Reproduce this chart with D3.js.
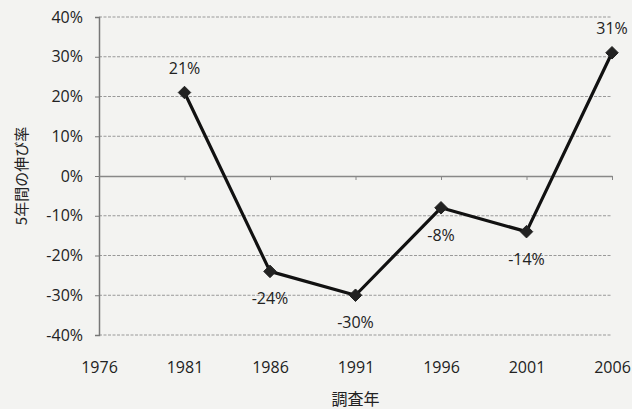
<!DOCTYPE html>
<html>
<head>
<meta charset="utf-8">
<script src="https://cdn.jsdelivr.net/npm/d3@7"></script>
<style>
  body { margin: 0; background: #f3f3f1; }
  svg { display: block; }
  .tick text { fill: #222; }
</style>
</head>
<body>
<div id="chart"></div>
<script>
  'use strict';

  // Data.
  var years = [1981, 1986, 1991, 1996, 2001, 2006];
  var growth = [21, -24, -30, -8, -14, 31];
  var xTicks = [1976, 1981, 1986, 1991, 1996, 2001, 2006];
  var yTicks = [-40, -30, -20, -10, 0, 10, 20, 30, 40];

  var width = 632, height = 409;
  var margin = {top: 17, right: 20, bottom: 74, left: 99};
  var chartW = width - margin.left - margin.right;
  var chartH = height - margin.top - margin.bottom;

  var svg = d3.select('#chart').append('svg')
      .attr('width', width)
      .attr('height', height);

  var inner = svg.append('g')
      .attr('transform', translation(margin.left, margin.top));

  var xScale = d3.scaleLinear().domain([1976, 2006]).range([0, chartW]);
  var yScale = d3.scaleLinear().domain([-40, 40]).range([chartH, 0]);

  var font = '"Open Sans", "Noto Sans CJK JP", sans-serif';

  // Horizontal dashed grid lines.
  inner.append('g')
      .selectAll('line')
      .data(yTicks.filter(function(d) { return d !== 0; }))
      .enter().append('line')
      .attr('x1', 0)
      .attr('x2', chartW)
      .attr('y1', function(d) { return yScale(d); })
      .attr('y2', function(d) { return yScale(d); })
      .attr('stroke', '#999')
      .attr('stroke-width', 1)
      .attr('stroke-dasharray', '3,1.5');

  // Y axis.
  var yAxis = d3.axisLeft(yScale)
      .tickValues(yTicks)
      .tickSize(4)
      .tickPadding(12)
      .tickFormat(function(d) { return d + '%'; });

  inner.append('g')
      .call(yAxis)
      .call(function(g) {
        g.select('.domain').attr('stroke', '#777').attr('stroke-width', 1.5);
        g.selectAll('.tick line').attr('stroke', '#777');
        g.selectAll('.tick text')
          .attr('font-family', font)
          .attr('font-size', 16);
      });

  // Zero line with tick marks at each year.
  var zeroAxis = d3.axisBottom(xScale)
      .tickValues(xTicks.slice(1))
      .tickSize(4)
      .tickSizeOuter(0)
      .tickFormat('');

  inner.append('g')
      .attr('transform', translation(0, yScale(0)))
      .call(zeroAxis)
      .call(function(g) {
        g.select('.domain').attr('stroke', '#888').attr('stroke-width', 1.5);
        g.selectAll('.tick line').attr('stroke', '#888');
      });

  // Year labels under the plot.
  var xAxis = d3.axisBottom(xScale)
      .tickValues(xTicks)
      .tickSize(0)
      .tickPadding(27)
      .tickFormat(d3.format('d'));

  inner.append('g')
      .attr('transform', translation(0, chartH))
      .call(xAxis)
      .call(function(g) {
        g.select('.domain').remove();
        g.selectAll('.tick text')
          .attr('font-family', font)
          .attr('font-size', 16);
      });

  // The line.
  var points = years.map(function(y, i) { return {year: y, value: growth[i]}; });

  var line = d3.line()
      .x(function(d) { return xScale(d.year); })
      .y(function(d) { return yScale(d.value); });

  inner.append('path')
      .datum(points)
      .attr('d', line)
      .attr('fill', 'none')
      .attr('stroke', '#111')
      .attr('stroke-width', 3.2)
      .attr('stroke-linejoin', 'round');

  // Diamond markers.
  inner.selectAll('.marker')
      .data(points)
      .enter().append('path')
      .attr('class', 'marker')
      .attr('d', d3.symbol().type(d3.symbolDiamond2).size(100))
      .attr('transform', function(d) {
        return translation(xScale(d.year), yScale(d.value));
      })
      .attr('fill', '#222')
      .attr('stroke', '#222')
      .attr('stroke-width', 1);

  // Value labels: above for positive, below for negative.
  inner.selectAll('.value-label')
      .data(points)
      .enter().append('text')
      .attr('class', 'value-label')
      .attr('x', function(d) { return xScale(d.year); })
      .attr('y', function(d) {
        return yScale(d.value) + (d.value >= 0 ? -19 : 33);
      })
      .attr('text-anchor', 'middle')
      .attr('font-family', font)
      .attr('font-size', 16)
      .attr('fill', '#222')
      .text(function(d) { return d.value + '%'; });

  // Axis titles.
  svg.append('text')
      .attr('x', margin.left + chartW / 2)
      .attr('y', 405)
      .attr('text-anchor', 'middle')
      .attr('font-family', '"Noto Sans CJK JP", sans-serif')
      .attr('font-size', 16)
      .attr('fill', '#222')
      .text('調査年');

  svg.append('text')
      .attr('transform', translation(27, margin.top + chartH / 2) + ' rotate(-90)')
      .attr('text-anchor', 'middle')
      .attr('font-family', '"Noto Sans CJK JP", sans-serif')
      .attr('font-size', 15)
      .attr('fill', '#222')
      .text('5年間の伸び率');

  function translation(x, y) {
    return 'translate(' + x + ',' + y + ')';
  }
</script>
</body>
</html>
